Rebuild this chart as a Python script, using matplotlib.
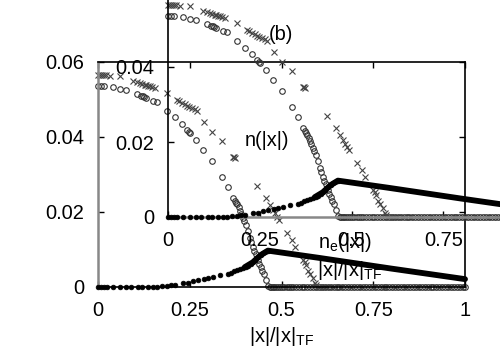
import matplotlib
matplotlib.use("Agg")
import matplotlib.pyplot as plt

plt.rcParams['font.family'] = ['Liberation Sans', 'DejaVu Sans']
plt.rcParams['mathtext.fontset'] = 'custom'
plt.rcParams['mathtext.rm'] = 'Liberation Sans'
plt.rcParams['mathtext.it'] = 'Liberation Sans:italic'

# ---------------- data ----------------
# filled circles: n_e(|x|)
ne_x = [0.000, 0.008, 0.016, 0.024, 0.040, 0.060, 0.075, 0.090, 0.110, 0.120,
        0.135, 0.150, 0.160, 0.175, 0.188, 0.200, 0.210, 0.232, 0.245, 0.258,
        0.272, 0.289, 0.300, 0.313, 0.332, 0.354, 0.362, 0.370, 0.380, 0.387,
        0.395, 0.402, 0.409, 0.416, 0.422, 0.428, 0.436, 0.443, 0.450, 0.456,
        0.463]
ne_y = [0.0, 0.0, 0.0, 0.0, 0.0, 0.0, 0.0, 0.0, 0.0, 0.0,
        0.0, 0.0001, 0.0001, 0.0002, 0.0003, 0.0005, 0.0006, 0.0010, 0.0012, 0.0015,
        0.0018, 0.0021, 0.0024, 0.0028, 0.0032, 0.0036, 0.0038, 0.0042, 0.0046, 0.0048,
        0.0051, 0.0054, 0.0057, 0.0061, 0.0066, 0.0071, 0.0079, 0.0085, 0.0090, 0.0094,
        0.0097]
# dense (line-like) decreasing part of n_e
ne_tail_x = [0.400, 0.422, 0.443, 0.463, 0.600, 0.800, 1.000]
ne_tail_y = [0.0053, 0.0066, 0.0085, 0.0097, 0.0078, 0.0049, 0.0021]

# open circles
oc_x = [0.000, 0.008, 0.016, 0.041, 0.060, 0.076, 0.105, 0.118, 0.122, 0.126,
        0.130, 0.150, 0.160, 0.188, 0.210, 0.229, 0.243, 0.248, 0.251, 0.267,
        0.286, 0.311, 0.338, 0.354, 0.368, 0.372, 0.376, 0.379, 0.383, 0.387,
        0.391, 0.395, 0.399, 0.403, 0.409, 0.414, 0.418, 0.422, 0.426, 0.431,
        0.436, 0.440, 0.444, 0.448, 0.452, 0.458, 0.463,
        0.468, 0.472, 0.476, 0.480, 0.484, 0.490, 0.496, 0.502, 0.508, 0.514,
        0.520, 0.526, 0.532, 0.540, 0.548, 0.556, 0.562, 0.570, 0.578, 0.586,
        0.594, 0.602, 0.610, 0.618, 0.626, 0.634, 0.642, 0.650, 0.658, 0.666,
        0.674, 0.682, 0.690, 0.698, 0.706, 0.714, 0.722, 0.730, 0.738, 0.746,
        0.754, 0.762, 0.770, 0.778, 0.786, 0.794, 0.802, 0.810, 0.818, 0.826,
        0.834, 0.842, 0.850, 0.858, 0.866, 0.874, 0.882, 0.890, 0.898, 0.906,
        0.914, 0.922, 0.930, 0.938, 0.946, 0.954, 0.962, 0.970, 0.978, 0.986,
        0.994, 1.000]
oc_y = [0.0537, 0.0537, 0.0536, 0.0533, 0.0529, 0.0525, 0.0515, 0.0510, 0.0508, 0.0506,
        0.0504, 0.0496, 0.0492, 0.0468, 0.0452, 0.0435, 0.0419, 0.0414, 0.0411, 0.0392,
        0.0365, 0.0336, 0.0293, 0.0267, 0.0237, 0.0230, 0.0225, 0.0220, 0.0212, 0.0203,
        0.0194, 0.0184, 0.0175, 0.0165, 0.0149, 0.0131, 0.0119, 0.0107, 0.0097, 0.0088,
        0.0072, 0.0062, 0.0053, 0.0044, 0.0035, 0.0019, 0.0003,
        0.0, 0.0, 0.0, 0.0, 0.0, 0.0, 0.0, 0.0, 0.0, 0.0,
        0.0, 0.0, 0.0, 0.0, 0.0, 0.0, 0.0, 0.0, 0.0, 0.0,
        0.0, 0.0, 0.0, 0.0, 0.0, 0.0, 0.0, 0.0, 0.0, 0.0,
        0.0, 0.0, 0.0, 0.0, 0.0, 0.0, 0.0, 0.0, 0.0, 0.0,
        0.0, 0.0, 0.0, 0.0, 0.0, 0.0, 0.0, 0.0, 0.0, 0.0,
        0.0, 0.0, 0.0, 0.0, 0.0, 0.0, 0.0, 0.0, 0.0, 0.0,
        0.0, 0.0, 0.0, 0.0, 0.0, 0.0, 0.0, 0.0, 0.0, 0.0,
        0.0, 0.0]

# crosses
cx_x = [0.000, 0.006, 0.011, 0.016, 0.022, 0.033, 0.060, 0.095, 0.105, 0.114,
        0.121, 0.128, 0.132, 0.136, 0.142, 0.148, 0.155, 0.188, 0.215, 0.222,
        0.229, 0.236, 0.243, 0.249, 0.256, 0.263, 0.270, 0.289, 0.311, 0.338,
        0.368, 0.370, 0.373, 0.433, 0.458, 0.470, 0.477, 0.483, 0.488, 0.493,
        0.515, 0.529, 0.537, 0.559, 0.563, 0.567, 0.572, 0.578, 0.586, 0.590,
        0.594, 0.600, 0.606, 0.612, 0.620, 0.640, 0.660, 0.690, 0.720, 0.750,
        0.780, 0.810, 0.840, 0.870, 0.900, 0.930, 0.960, 0.990]
cx_y = [0.0566, 0.0566, 0.0565, 0.0565, 0.0564, 0.0563, 0.0562, 0.0550, 0.0547, 0.0544,
        0.0541, 0.0539, 0.0538, 0.0537, 0.0535, 0.0533, 0.0530, 0.0516, 0.0499, 0.0495,
        0.0491, 0.0487, 0.0483, 0.0480, 0.0477, 0.0474, 0.0470, 0.0440, 0.0414, 0.0389,
        0.0347, 0.0346, 0.0345, 0.0268, 0.0237, 0.0218, 0.0205, 0.0196, 0.0187, 0.0179,
        0.0144, 0.0125, 0.0107, 0.0072, 0.0066, 0.0060, 0.0042, 0.0034, 0.0024, 0.0012,
        0.0005, 0.0, 0.0, 0.0, 0.0, 0.0, 0.0, 0.0, 0.0, 0.0,
        0.0, 0.0, 0.0, 0.0, 0.0, 0.0, 0.0, 0.0]

x_ticks = [0, 0.25, 0.5, 0.75, 1]
x_ticklabels = ['0', '0.25', '0.5', '0.75', '1']
yA_ticks = [0, 0.02, 0.04, 0.06]
yA_ticklabels = ['0', '0.02', '0.04', '0.06']
yB_ticks = [0, 0.02, 0.04]
yB_ticklabels = ['0', '0.02', '0.04']

# ---------------- figure ----------------
W, H = 500, 350
fig = plt.figure(figsize=(5, 3.5), dpi=100)
fs = 14.4
GRAY = '#888888'


def px_rect(l, t, r, b):
    return [l / W, 1 - b / H, (r - l) / W, (b - t) / H]


def draw_data(ax):
    ax.plot(ne_tail_x, ne_tail_y, '-', color='black', lw=4.2,
            solid_capstyle='round', clip_on=False, zorder=3)
    ax.plot(ne_x, ne_y, 'o', color='black', ms=3.4, mec='black', mew=0.5,
            clip_on=False, zorder=3)
    ax.plot(oc_x, oc_y, 'o', mfc='none', mec='#333333', ms=4.0, mew=0.8,
            clip_on=False, zorder=2)
    ax.plot(cx_x, cx_y, 'x', color='#444444', ms=4.2, mew=0.8,
            clip_on=False, zorder=2)


# Panel A (back)
axA = fig.add_axes(px_rect(98, 62, 465, 287))
axA.patch.set_alpha(0)
draw_data(axA)
axA.set_xlim(0, 1)
axA.set_ylim(0, 0.06)
axA.set_xticks(x_ticks)
axA.set_xticklabels(x_ticklabels)
axA.set_yticks(yA_ticks)
axA.set_yticklabels(yA_ticklabels)
axA.tick_params(direction='in', length=4.5, width=1.0, labelsize=fs,
                top=True, right=True, pad=10)
for s in ['top', 'right', 'bottom']:
    axA.spines[s].set_color('black')
    axA.spines[s].set_linewidth(1.2)
axA.spines['left'].set_color(GRAY)
axA.spines['left'].set_linewidth(1.8)

# Panel B (front, shifted)
axB = fig.add_axes(px_rect(168, -8, 535, 217))
axB.patch.set_alpha(0)
draw_data(axB)
axB.set_xlim(0, 1)
axB.set_ylim(0, 0.06)
axB.set_xticks(x_ticks)
axB.set_xticklabels(x_ticklabels)
axB.set_yticks(yB_ticks)
axB.set_yticklabels(yB_ticklabels)
axB.tick_params(direction='in', length=4.5, width=1.0, labelsize=fs, pad=10)
axB.spines['left'].set_color('black')
axB.spines['left'].set_linewidth(1.2)
axB.spines['bottom'].set_color(GRAY)
axB.spines['bottom'].set_linewidth(1.8)
axB.spines['top'].set_visible(False)
axB.spines['right'].set_visible(False)


def ftext(px, py, s, **kw):
    fig.text(px / W, 1 - py / H, s, fontsize=fs, **kw)


ftext(281, 34, '(b)', ha='center', va='center')
ftext(267, 140, 'n(|x|)', ha='center', va='center')
ftext(318, 248, r'$\mathrm{n_e(|x|)}$', ha='left', va='baseline')
ftext(350, 270, r'$\mathrm{|x|/|x|_{TF}}$', ha='center', va='center')
ftext(282, 336, r'$\mathrm{|x|/|x|_{TF}}$', ha='center', va='center')

fig.savefig('out.png', dpi=100)
